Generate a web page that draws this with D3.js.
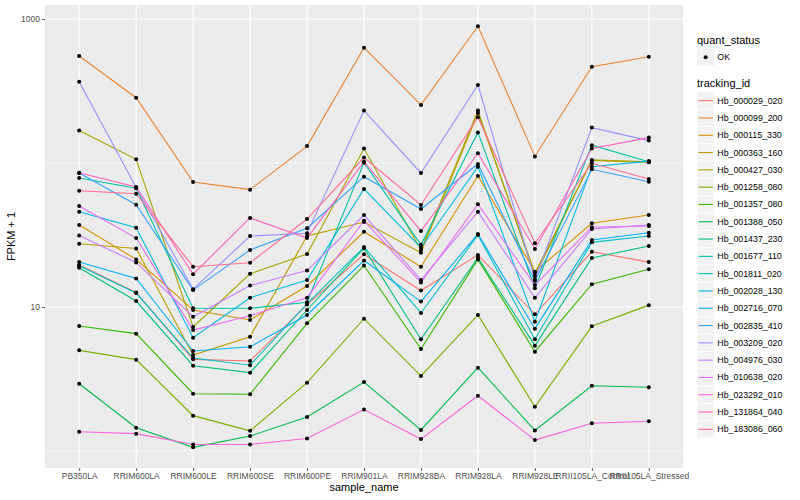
<!DOCTYPE html>
<html>
<head>
<meta charset="utf-8">
<script src="https://cdn.jsdelivr.net/npm/d3@7"></script>
<style>
  body { margin: 0; background: #fff; }
  svg text { font-family: "Liberation Sans", Arial, Helvetica, sans-serif; }
</style>
</head>
<body>
<svg id="chart" width="800" height="500"></svg>
<script>
/* global d3 */

// x categories
var samples = ['PB350LA', 'RRIM600LA', 'RRIM600LE', 'RRIM600SE', 'RRIM600PE', 'RRIM901LA',
  'RRIM928BA', 'RRIM928LA', 'RRIM928LE', 'RRII105LA_Control', 'RRII105LA_Stressed'];

var trackingIds = ['Hb_000029_020', 'Hb_000099_200', 'Hb_000115_330', 'Hb_000363_160', 'Hb_000427_030',
  'Hb_001258_080', 'Hb_001357_080', 'Hb_001388_050', 'Hb_001437_230', 'Hb_001677_110',
  'Hb_001811_020', 'Hb_002028_130', 'Hb_002716_070', 'Hb_002835_410', 'Hb_003209_020',
  'Hb_004976_030', 'Hb_010638_020', 'Hb_023292_010', 'Hb_131864_040', 'Hb_183086_060'];

// FPKM + 1, one array per tracking id (same order as samples)
var hb_000029_020 = [19.6, 12.6, 4.33, 4.22, 10.4, 23.2, 13.0, 23.0, 8.9, 24.2, 20.5];
var hb_000099_200 = [553, 284, 73.8, 65.3, 131, 632, 253, 890, 111, 466, 547];
var hb_000115_330 = [37.1, 21.4, 9.53, 8.12, 14.0, 33.3, 19.05, 81.2, 17.6, 38.1, 43.5];
var hb_000363_160 = [27.5, 25.5, 4.64, 6.22, 31.1, 38.9, 23.8, 222, 17.2, 104, 101];
var hb_000427_030 = [168, 106, 7.26, 17.0, 23.3, 126, 24.9, 231, 16.4, 105, 102];
var hb_001258_080 = [5.0, 4.31, 1.76, 1.38, 2.98, 8.29, 3.32, 8.8, 2.03, 7.34, 10.3];
var hb_001357_080 = [7.38, 6.53, 2.50, 2.48, 7.70, 19.4, 5.11, 21.4, 4.89, 14.4, 18.3];
var hb_001388_050 = [2.93, 1.45, 1.06, 1.27, 1.72, 3.01, 1.40, 3.79, 1.39, 2.84, 2.77];
var hb_001437_230 = [18.7, 11.0, 3.91, 3.50, 9.53, 25.6, 5.97, 22.0, 5.39, 21.9, 26.5];
var hb_001677_110 = [78.7, 66.7, 9.8, 9.8, 10.8, 100.5, 27.0, 163, 13.5, 133, 102];
var hb_001811_020 = [19.3, 12.5, 4.42, 3.94, 10.5, 26.1, 9.09, 31.6, 5.97, 28.1, 31.1];
var hb_002028_130 = [45.9, 35.5, 6.12, 11.6, 15.4, 66.0, 25.8, 94.3, 7.91, 94.3, 103];
var hb_002716_070 = [20.5, 15.8, 4.95, 5.3, 8.8, 21.0, 10.9, 32.1, 7.07, 29.2, 32.8];
var hb_002835_410 = [85.2, 51.3, 13.1, 24.9, 35.2, 80.3, 47.9, 98.4, 15.2, 90.4, 74.1];
var hb_003209_020 = [367, 67.6, 13.3, 31.1, 32.5, 231, 85.2, 348, 15.6, 176, 143];
var hb_004976_030 = [31.3, 20.4, 8.56, 14.1, 17.9, 43.5, 15.4, 45.9, 11.6, 34.8, 37.1];
var hb_010638_020 = [50.3, 30.1, 6.92, 8.7, 11.6, 39.7, 14.8, 51.7, 14.2, 35.8, 36.5];
var hb_023292_010 = [1.36, 1.32, 1.11, 1.11, 1.22, 1.94, 1.21, 2.42, 1.19, 1.56, 1.61];
var hb_131864_040 = [85.6, 68.1, 16.9, 41.5, 30.1, 102, 33.7, 117, 25.3, 126, 150];
var hb_183086_060 = [64.2, 61.2, 19.05, 20.3, 40.8, 109, 51.1, 208, 27.7, 99.5, 77.4];

var seriesValues = [hb_000029_020, hb_000099_200, hb_000115_330, hb_000363_160, hb_000427_030,
  hb_001258_080, hb_001357_080, hb_001388_050, hb_001437_230, hb_001677_110,
  hb_001811_020, hb_002028_130, hb_002716_070, hb_002835_410, hb_003209_020,
  hb_004976_030, hb_010638_020, hb_023292_010, hb_131864_040, hb_183086_060];

var yTicks = [10, 1000];
var yMinor = [1, 100];

// ggplot hue palette, 20 levels
var palette = ['#F8766D', '#EA8331', '#D89000', '#C09B00', '#A3A500', '#7CAE00', '#39B600', '#00BB4E',
  '#00BF7D', '#00C1A3', '#00BFC4', '#00BAE0', '#00B0F6', '#35A2FF', '#9590FF', '#C77CFF',
  '#E76BF3', '#FA62DB', '#FF62BC', '#FF6C91'];

var series = trackingIds.map((id, i) => ({
  id: id,
  values: samples.map((s, j) => ({ sample: s, value: seriesValues[i][j] }))
}));

var panel = { left: 45, right: 683, top: 5, bottom: 468 };

var svg = d3.select('#chart');

var x = d3.scalePoint().domain(samples).range([panel.left, panel.right]).padding(0.6);
var y = d3.scaleLog().domain([0.762, 1250]).range([panel.bottom, panel.top]);
var color = d3.scaleOrdinal().domain(trackingIds).range(palette);

// panel background + grid
svg.append('rect')
  .attr('x', panel.left).attr('y', panel.top)
  .attr('width', panel.right - panel.left).attr('height', panel.bottom - panel.top)
  .attr('fill', '#EBEBEB');

var grid = svg.append('g').attr('class', 'grid');
grid.selectAll('line.minor')
  .data(yMinor).enter()
  .append('line').attr('class', 'minor')
  .attr('x1', panel.left).attr('x2', panel.right)
  .attr('y1', d => y(d)).attr('y2', d => y(d))
  .attr('stroke', '#fff').attr('stroke-width', 0.6);
grid.selectAll('line.major-y')
  .data(yTicks).enter()
  .append('line').attr('class', 'major-y')
  .attr('x1', panel.left).attr('x2', panel.right)
  .attr('y1', d => y(d)).attr('y2', d => y(d))
  .attr('stroke', '#fff').attr('stroke-width', 1.1);
grid.selectAll('line.major-x')
  .data(samples).enter()
  .append('line').attr('class', 'major-x')
  .attr('y1', panel.top).attr('y2', panel.bottom)
  .attr('x1', d => x(d)).attr('x2', d => x(d))
  .attr('stroke', '#fff').attr('stroke-width', 1.1);

// axes
var xAxis = svg.append('g')
  .attr('transform', `translate(0,${panel.bottom})`)
  .call(d3.axisBottom(x).tickSize(3).tickPadding(2));
var yAxis = svg.append('g')
  .attr('transform', `translate(${panel.left},0)`)
  .call(d3.axisLeft(y).tickValues(yTicks).tickFormat(d3.format('d')).tickSize(3).tickPadding(2));
[xAxis, yAxis].forEach(a => {
  a.select('.domain').remove();
  a.selectAll('.tick line').attr('stroke', '#333').attr('stroke-width', 0.8);
  a.selectAll('.tick text').attr('fill', '#4D4D4D').style('font-size', '8.5px');
});

svg.append('text')
  .attr('x', (panel.left + panel.right) / 2).attr('y', 491)
  .attr('text-anchor', 'middle').style('font-size', '11px').attr('fill', '#000')
  .text('sample_name');
svg.append('text')
  .attr('transform', `translate(15,${(panel.top + panel.bottom) / 2}) rotate(-90)`)
  .attr('text-anchor', 'middle').style('font-size', '11px').attr('fill', '#000')
  .text('FPKM + 1');

// lines and points
var line = d3.line().x(d => x(d.sample)).y(d => y(d.value));
svg.append('g').selectAll('path')
  .data(series).enter()
  .append('path')
  .attr('d', d => line(d.values))
  .attr('fill', 'none')
  .attr('stroke', d => color(d.id))
  .attr('stroke-width', 1.1);

svg.append('g').selectAll('circle')
  .data(series.flatMap(d => d.values)).enter()
  .append('circle')
  .attr('cx', d => x(d.sample)).attr('cy', d => y(d.value))
  .attr('r', 2).attr('fill', '#000');

// legend
var legend = svg.append('g').attr('class', 'legend');
var keyX = 697, keySize = 17.3;

legend.append('text').attr('x', keyX).attr('y', 44)
  .style('font-size', '11px').text('quant_status');
legend.append('rect').attr('x', keyX).attr('y', 48.5)
  .attr('width', keySize).attr('height', keySize).attr('fill', '#F2F2F2');
legend.append('circle').attr('cx', keyX + keySize / 2).attr('cy', 48.5 + keySize / 2)
  .attr('r', 2).attr('fill', '#000');
legend.append('text').attr('x', keyX + keySize + 3).attr('y', 48.5 + keySize / 2 + 3)
  .style('font-size', '8.8px').attr('fill', '#000').text('OK');

legend.append('text').attr('x', keyX).attr('y', 87)
  .style('font-size', '11px').text('tracking_id');

var keys = legend.selectAll('g.key')
  .data(trackingIds).enter()
  .append('g').attr('class', 'key')
  .attr('transform', (d, i) => `translate(${keyX},${92 + i * keySize})`);
keys.append('rect')
  .attr('width', keySize).attr('height', keySize)
  .attr('fill', '#F2F2F2').attr('stroke', '#fff').attr('stroke-width', 0.8);
keys.append('line')
  .attr('x1', 1.5).attr('x2', keySize - 1.5)
  .attr('y1', keySize / 2).attr('y2', keySize / 2)
  .attr('stroke', d => color(d)).attr('stroke-width', 1.1);
keys.append('text')
  .attr('x', keySize + 3).attr('y', keySize / 2 + 3)
  .style('font-size', '8.8px').attr('fill', '#000')
  .text(d => d);
</script>
</body>
</html>
